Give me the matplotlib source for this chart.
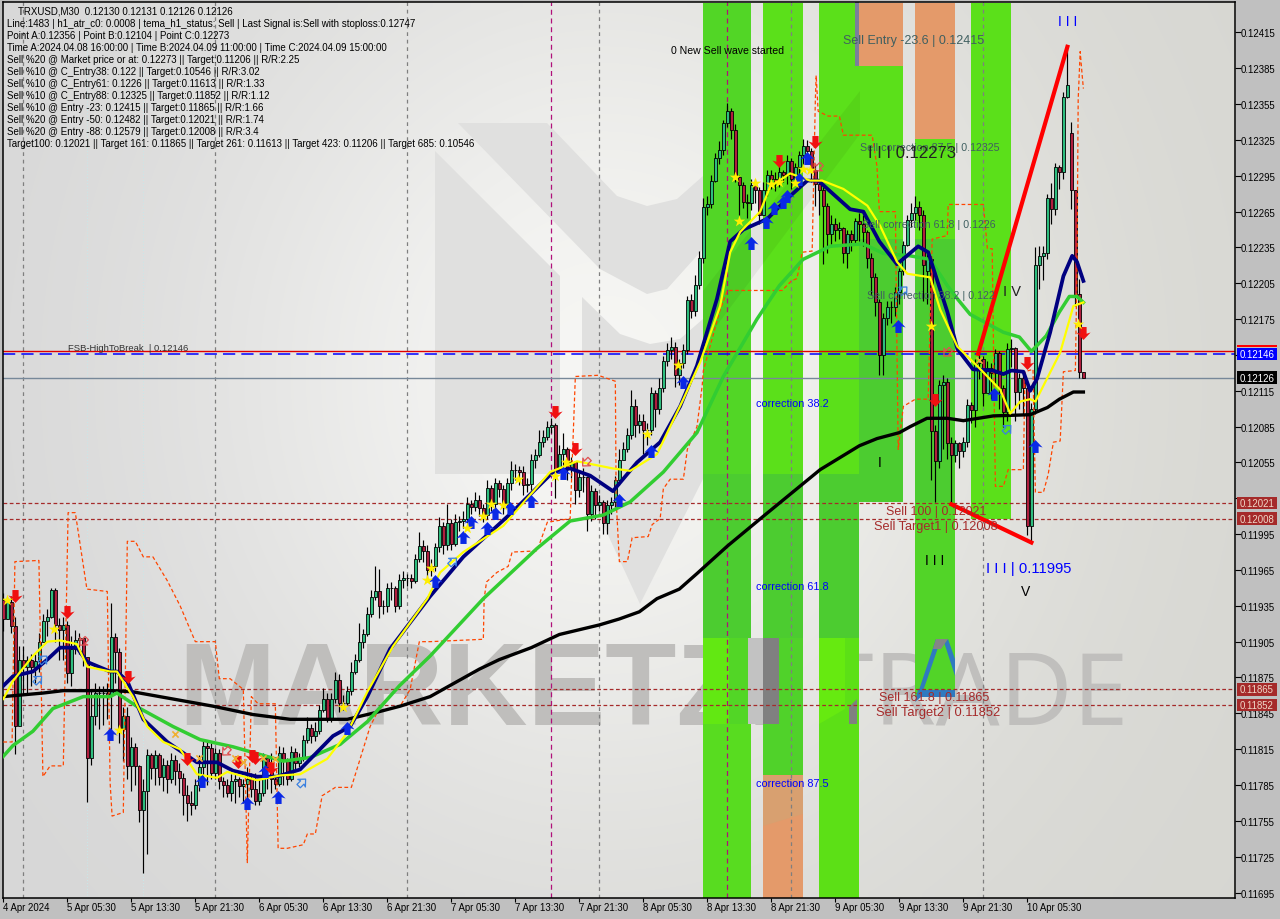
#!/usr/bin/env python3

# TRXUSD M30 chart. prices are in 1e-5 units here.

import numpy as np
from matplotlib import pyplot as plt
from matplotlib.patches import Polygon, Rectangle
from matplotlib.path import Path
from matplotlib.transforms import Affine2D

plt.rcParams['font.family'] = ['Liberation Sans', 'DejaVu Sans']

closes = [
    11924,11938,11918,11834,11890,11884,11890,11884,11889,11905,
    11922,11926,11948,11919,11915,11919,11879,11899,11906,11908,
    11892,11808,11843,11862,11862,11862,11860,11909,11896,11832,
    11843,11801,11817,11801,11764,11780,11810,11799,11810,11792,
    11802,11790,11806,11797,11791,11777,11770,11768,11785,11800,
    11818,11816,11795,11812,11788,11785,11778,11788,11790,11784,
    11786,11790,11782,11772,11778,11808,11800,11790,11786,11812,
    11806,11790,11813,11803,11808,11823,11833,11826,11830,11848,
    11857,11841,11857,11873,11854,11854,11864,11880,11890,11905,
    11911,11928,11942,11947,11935,11935,11950,11950,11935,11957,
    11958,11958,11956,11974,11985,11981,11965,11968,11984,12002,
    11986,12004,11987,12005,12006,12008,12020,12018,12024,12017,
    12011,12034,12020,12038,12033,12020,12038,12049,12049,12047,
    12036,12037,12057,12061,12072,12076,12085,12086,12048,12062,
    12066,12050,12055,12032,12043,12043,12012,12031,12019,12022,
    12004,12019,12022,12040,12057,12066,12078,12102,12086,12090,
    12082,12082,12113,12100,12117,12140,12149,12152,12128,12138,
    12149,12191,12182,12204,12226,12269,12271,12291,12310,12317,
    12339,12349,12333,12294,12287,12273,12272,12287,12283,12262,
    12283,12296,12292,12290,12298,12296,12307,12292,12302,12312,
    12320,12316,12300,12288,12283,12270,12246,12255,12250,12251,
    12230,12246,12241,12257,12255,12248,12226,12210,12189,12145,
    12176,12185,12185,12198,12215,12237,12258,12264,12269,12262,
    12220,12225,12081,12056,12120,12122,12071,12061,12071,12065,
    12072,12103,12099,12138,12142,12113,12134,12130,12147,12117,
    12097,12150,12151,12114,12126,12117,12002,12100,12220,12228,
    12230,12276,12267,12302,12298,12361,12371,12283,12195,12131,
    12126]
highs = [
    11946,11942,11943,11926,11901,11901,11893,11895,11895,11912,
    11928,11932,11950,11950,11925,11926,11922,11910,11915,11912,
    11905,11890,11865,11870,11868,11868,11870,11937,11912,11900,
    11850,11850,11825,11820,11802,11790,11815,11812,11814,11812,
    11808,11806,11812,11810,11803,11795,11785,11780,11790,11810,
    11822,11822,11820,11816,11815,11792,11790,11794,11795,11792,
    11790,11800,11795,11795,11790,11812,11808,11812,11792,11818,
    11817,11808,11818,11816,11812,11827,11842,11836,11838,11852,
    11866,11862,11862,11880,11878,11860,11868,11888,11895,11921,
    11916,11934,11948,11968,11966,11940,11954,11955,11952,11962,
    11964,11962,11962,11978,11997,11990,11986,11974,11988,12009,
    12005,12020,12008,12012,12010,12014,12026,12024,12030,12028,
    12020,12040,12036,12042,12040,12036,12042,12056,12054,12052,
    12052,12042,12062,12066,12082,12082,12090,12092,12088,12070,
    12080,12068,12060,12056,12048,12050,12044,12036,12034,12028,
    12024,12024,12026,12044,12066,12072,12084,12116,12108,12096,
    12096,12088,12118,12116,12126,12144,12155,12160,12156,12142,
    12154,12194,12196,12212,12232,12276,12278,12296,12314,12324,
    12342,12356,12352,12338,12296,12290,12280,12292,12292,12286,
    12290,12300,12300,12298,12304,12300,12312,12310,12306,12316,
    12326,12325,12318,12304,12292,12286,12272,12262,12260,12256,
    12252,12250,12250,12260,12264,12262,12250,12230,12214,12192,
    12180,12190,12190,12202,12218,12240,12262,12272,12278,12274,
    12266,12230,12228,12086,12124,12128,12126,12076,12074,12072,
    12076,12108,12106,12142,12152,12144,12140,12138,12150,12148,
    12120,12155,12158,12152,12130,12130,12120,12105,12235,12236,
    12236,12280,12289,12306,12304,12365,12401,12340,12283,12209,
    12131]
lows = [
    11914,11924,11912,11811,11834,11860,11862,11868,11870,11880,
    11905,11910,11925,11905,11890,11890,11870,11868,11895,11895,
    11885,11771,11802,11835,11832,11835,11840,11824,11870,11820,
    11805,11790,11780,11785,11754,11711,11727,11790,11785,11785,
    11780,11778,11787,11785,11778,11760,11755,11760,11765,11780,
    11790,11785,11790,11790,11782,11775,11775,11772,11770,11775,
    11770,11765,11775,11768,11768,11776,11782,11778,11782,11784,
    11785,11785,11788,11798,11800,11805,11820,11820,11822,11828,
    11846,11838,11838,11854,11846,11848,11852,11860,11878,11888,
    11900,11910,11926,11940,11925,11928,11930,11940,11930,11932,
    11950,11952,11950,11954,11972,11972,11958,11960,11964,11980,
    11978,11982,11982,11985,11998,12000,12004,12012,12014,12010,
    12005,12008,12014,12016,12026,12012,12018,12032,12040,12036,
    12028,12030,12032,12050,12060,12068,12074,12080,12025,12046,
    12050,12040,12042,12020,12026,12030,11998,12006,12008,12014,
    11995,11995,12012,12018,12036,12058,12064,12075,12076,12080,
    12062,12070,12078,12085,12096,12114,12136,12142,12118,12120,
    12134,12146,12176,12178,12200,12222,12262,12268,12290,12305,
    12312,12336,12326,12290,12262,12268,12260,12266,12272,12255,
    12262,12278,12284,12282,12286,12290,12288,12284,12288,12296,
    12304,12308,12290,12270,12262,12221,12230,12238,12240,12242,
    12222,12218,12232,12238,12240,12236,12218,12195,12178,12128,
    12128,12170,12172,12178,12188,12212,12236,12252,12258,12250,
    12190,12188,12040,12022,12050,12066,12058,12021,12055,12050,
    12060,12068,12088,12085,12125,12102,12115,12108,12120,12100,
    12085,12090,12135,12090,12100,12096,11994,11989,12096,12200,
    12208,12225,12255,12262,12284,12292,12360,12267,12186,12126,
    12126]
open_gaps = {0: 11940, 231: 12215, 267: 12331, 269: 12196, 270: 12131}

black_x = [0,10,15,21,27.4,32.4,42.4,52.4,62.4,71.7,86,93.5,99.2,106.7,119,124,132,139,149,154,159,163.4,169,173.4,181,190,204.2,214,218.4,224,226.7,230.9,236,240,247.5,256.7,261,264,267.5,270]
black_y = [11859,11862,11864,11864,11864,11863,11857,11851,11844,11840,11840,11846,11851,11859,11882,11890,11900,11911,11919,11924,11930,11941,11949,11962,11985,12010,12049,12069,12075,12080,12085,12092,12092,12090,12094,12095,12101,12108,12114,12114]

green_x = [0,2.4,7.4,12.4,20,26.7,28.4,34.2,42.4,49.2,57.4,70,76.7,84.2,91,99,106.7,120,133.4,141.7,150,156.7,165,173.4,180,188.4,194,199.9,206.7,215,220,226.7,231.7,236,238.5,241.7,250,254,257,260.7,264,266.5,268.4,270]
green_y = [11809,11818,11830,11849,11859,11859,11862,11849,11834,11823,11817,11805,11808,11819,11838,11868,11893,11941,11983,12006,12011,12022,12047,12080,12127,12175,12203,12225,12236,12238,12230,12228,12225,12203,12192,12179,12164,12160,12148,12161,12181,12194,12194,12189]

navy_x = [0,2.4,7.4,11,14.2,18.4,21,26.7,28.4,31,35,41,48.4,53.4,57.4,63.4,68.4,74.2,82.4,86.7,91,96.7,106.7,115,127.4,137.4,141.7,146.7,152.4,158.4,164.2,169.2,173.4,178.4,181.7,185,191,196,201,203.7,211.7,215,219,223.4,228.7,231.2,236,238.5,242.4,247.4,250,252,255,256.7,258.4,261.7,265,267.2,268.4,270]
navy_y = [11868,11876,11880,11890,11900,11900,11888,11880,11880,11872,11840,11821,11804,11804,11797,11792,11792,11798,11826,11834,11859,11899,11943,11976,12014,12047,12050,12044,12031,12055,12072,12102,12136,12192,12240,12250,12259,12276,12291,12291,12267,12265,12240,12221,12236,12231,12181,12150,12133,12132,12129,12132,12131,12115,12125,12164,12211,12228,12223,12207]

yellow_x = [0,2.4,7.4,11,14.2,18.4,21,26.7,28.4,32.4,36,40,44.2,48.4,53.4,56,63.4,69.2,74.2,81,86,91,97.4,106,109.2,115,125,136.7,143.4,152.4,156.7,163.4,170,174.2,179.2,181.7,184.2,189.2,191.7,196.7,201.7,204.7,210,216,219.2,223.4,226,231.7,234.2,238.5,243.4,249.2,251.7,254.2,256.7,258,264.2,267.5,270]
yellow_y = [11857,11872,11893,11905,11906,11903,11884,11880,11880,11859,11834,11821,11815,11794,11791,11796,11789,11793,11794,11807,11829,11863,11901,11941,11963,11980,12002,12047,12056,12050,12048,12062,12108,12139,12186,12231,12248,12265,12286,12297,12291,12291,12284,12270,12253,12223,12213,12210,12183,12152,12136,12116,12096,12106,12108,12106,12147,12186,12189]

stop_x = [0,2.2,2.9,8.9,9.9,11.7,15,16.2,18,20.9,26,26.7,27.2,30,31,33,35,37.4,41,44.2,48,53,54,56.7,60,61,62,63.7,68,68.7,71,75,76,78,79.7,83,87,91.7,93.5,99.2,101.7,104,106.7,120,120.2,120.8,123.4,126.2,127.2,133.4,136,141.7,143,148.7,153,153.2,154,156,157.2,161.2,162.2,164.2,165,166.7,170,171,173.4,174.7,175,179.2,181,194.7,197,198.4,199.7,202.2,203,203.2,203.7,206.2,209,210,217.2,218.4,219,223,223.7,225,228,231.2,232.2,236,236.2,245,246,247.2,248,250,251.2,255,255.4,257.4,258,260,261.2,262.5,264.2,265,268,268.4,268.7,269.2,269.7,270]
stop_y = [11821,11821,11972,11973,11792,11801,11801,12013,12013,11949,11947,11787,11759,11762,11989,11989,11976,11976,11956,11935,11905,11905,11874,11874,11865,11720,11859,11853,11853,11732,11732,11735,11744,11744,11776,11783,11783,11834,11846,11851,11865,11905,11905,11907,11941,11955,11963,11968,11980,11981,12005,12008,12127,12128,12123,12024,11972,11972,11992,11993,12003,12008,12033,12041,12041,12066,12085,12119,12132,12183,12199,12199,12207,12209,12231,12232,12359,12379,12349,12345,12345,12329,12329,12303,12265,12265,12066,12102,12108,12108,12242,12245,12271,12271,12234,12234,12035,12035,12049,12049,12131,12133,12030,12030,12045,12072,12073,12131,12132,12219,12359,12399,12379,12368]

sell_x = [2.9,16,31.2,46,58.7,62.2,63,67,138,143,194,203,233,256,270]
sell_y = [11943,11930,11875,11807,11804,11809,11808,11799,12097,12066,12307,12323,12107,12138,12163]
buy_x = [26.7,49.7,61,65.4,68.7,86,108,115,117,121,123,126.7,132,140,154,162,170,187,190.7,192.7,195,196,199,201,223.7,247.7,258]
buy_y = [11828,11788,11770,11797,11775,11833,11956,11993,12005,12000,12013,12017,12023,12046,12024,12065,12122,12239,12256,12268,12273,12278,12292,12310,12169,12112,12069]
star_x = [1,12.7,29,85,106,107,116,120,122,125,128.7,138,140.7,161,168.7,183,184,188,192,194,198,200,201.7,232,268.7]
star_y = [11940,11916,11831,11850,11957,11967,12000,12010,12020,12019,12041,12044,12055,12079,12137,12294,12257,12289,12288,12290,12289,12301,12300,12169,12171]
cross_x = [43,49,58,60,65,68,244]
cross_y = [11828,11808,11808,11804,11808,11807,12141]
hollow_buy_x = [8.7,10,74.7,112.4,225,251]
hollow_buy_y = [11873,11890,11787,11972,12199,12083]
hollow_sell_x = [20,55.7,145.7,203.7,236]
hollow_sell_y = [11905,11813,12055,12302,12147]

zigzag_up_x = [243.7, 266]
zigzag_up_y = [12146, 12403]
zigzag_down_x = [237, 257]
zigzag_down_y = [12020, 11988]

price_ticks = [12415,12385,12355,12325,12295,12265,12235,12205,12175,12145,12115,12085,12055,12025,11995,11965,11935,11905,11875,11845,11815,11785,11755,11725,11695]
hidden_ticks = [12145, 12025]  # under the price tags in the screenshot
time_labels = ['4 Apr 2024','5 Apr 05:30','5 Apr 13:30','5 Apr 21:30','6 Apr 05:30','6 Apr 13:30','6 Apr 21:30',
               '7 Apr 05:30','7 Apr 13:30','7 Apr 21:30','8 Apr 05:30','8 Apr 13:30','8 Apr 21:30',
               '9 Apr 05:30','9 Apr 13:30','9 Apr 21:30','10 Apr 05:30']

header_lines = [
    'Line:1483 | h1_atr_c0: 0.0008 | tema_h1_status: Sell | Last Signal is:Sell with stoploss:0.12747',
    'Point A:0.12356 | Point B:0.12104 | Point C:0.12273',
    'Time A:2024.04.08 16:00:00 | Time B:2024.04.09 11:00:00 | Time C:2024.04.09 15:00:00',
    'Sell %20 @ Market price or at: 0.12273 || Target:0.11206 || R/R:2.25',
    'Sell %10 @ C_Entry38: 0.122 || Target:0.10546 || R/R:3.02',
    'Sell %10 @ C_Entry61: 0.1226 || Target:0.11613 || R/R:1.33',
    'Sell %10 @ C_Entry88: 0.12325 || Target:0.11852 || R/R:1.12',
    'Sell %10 @ Entry -23: 0.12415 || Target:0.11865 || R/R:1.66',
    'Sell %20 @ Entry -50: 0.12482 || Target:0.12021 || R/R:1.74',
    'Sell %20 @ Entry -88: 0.12579 || Target:0.12008 || R/R:3.4',
    'Target100: 0.12021 || Target 161: 0.11865 || Target 261: 0.11613 || Target 423: 0.11206 || Target 685: 0.10546',
]

BRIGHT = '#5be01a'
DARK = '#4ccc30'
MID = '#52d626'
ORANGE = '#e49a6a'
# start bar, end bar, top price, bottom price, colour
bands = [
    (175, 187, 12440, 12045, MID), (175, 187, 12045, 11908, DARK), (175, 187, 11908, 11836, MID), (175, 187, 11836, 11690, '#58dc20'),
    (190, 200, 12440, 12045, BRIGHT), (190, 200, 12045, 11908, DARK), (190, 200, 11908, 11793, '#50d22a'), (190, 200, 11793, 11690, ORANGE),
    (204, 214, 12440, 12045, BRIGHT), (204, 214, 12045, 11908, DARK), (204, 214, 11908, 11690, '#5ce016'),
    (214, 225, 12440, 12387, ORANGE), (214, 225, 12387, 12242, BRIGHT), (214, 225, 12242, 12022, DARK),
    (228, 238, 12440, 12326, ORANGE), (228, 238, 12326, 12242, BRIGHT), (228, 238, 12242, 12022, DARK), (228, 238, 12022, 11859, '#52d428'),
    (242, 252, 12440, 12008, BRIGHT),
]

fig = plt.figure(figsize=(12.8, 9.2), dpi=100, facecolor='#c0c0c0')
ax = fig.add_axes([2.5/1280, 21/920, 1232.5/1280, 896/920])
pix = Affine2D().scale(1/1280, -1/920).translate(0, 1) + fig.transFigure

x = np.arange(len(closes))
c = np.array(closes) / 1e5
h = np.array(highs) / 1e5
l = np.array(lows) / 1e5
o = np.r_[c[0], c[:-1]]
for k, v in open_gaps.items():
    o[k] = v / 1e5

# background
yy, xx = np.mgrid[0:92, 0:128]
v = 214 + 32 * np.exp(-((xx*10-620)/430.0)**2 - ((yy*10-380)/470.0)**2)
bg = np.dstack([v, v, v - xx/128*5]) / 255
ax.imshow(bg, extent=[0, 1, 0, 1], transform=ax.transAxes, aspect='auto', zorder=0, interpolation='bilinear')
ax.set_xlim(-0.2, 307.9)
ax.set_ylim(0.116904, 0.124405)

# logo watermark
logo = '#e0e0df'
for pts in [[(435,152),(560,277),(560,475),(435,475)],
            [(458,124),(547,124),(617,197),(647,207),(677,200),(703,177),(703,250),(667,290),(647,295),(600,270)],
            [(582,298),(620,335),(650,345),(680,340),(703,320),(703,480),(640,605),(582,480)]]:
    ax.add_patch(Polygon(pts, transform=pix, facecolor=logo, edgecolor='none', zorder=0.5))
ax.text(178, 725, 'MARKETZI', transform=pix, fontsize=84, fontweight='bold', color='#bfbebc', ha='left', va='baseline', zorder=0.6)
ax.text(818, 725, 'TRADE', transform=pix, fontsize=72, color='#c0bfbd', family=['Noto Sans', 'Liberation Sans'], ha='left', va='baseline', zorder=0.6)

for b in bands:
    ax.add_patch(Rectangle((b[0] - 0.1, b[3] / 1e5), b[1] - b[0], (b[2] - b[3]) / 1e5, facecolor=b[4], edgecolor='none', zorder=1))

# bits of watermark that show on top of the bands
for pts, col in [([(748,639),(763,639),(763,725),(748,725)], '#c2c2c2'),
                 ([(763,639),(779,639),(779,725),(763,725)], '#808080'),
                 ([(703,639),(729,639),(729,725),(703,725)], '#62e812'),
                 ([(819,639),(845,639),(845,710),(819,725)], '#66ea10'),
                 ([(849,708),(857,700),(857,725),(849,725)], '#808080'),
                 ([(915,703),(936,640),(941,640),(921,698)], '#2f7ac0'),
                 ([(943,640),(948,640),(955,660),(955,677)], '#2f7ac0'),
                 ([(918,691),(955,691),(955,698),(916,698)], '#2f7ac0'),
                 ([(936,640),(948,640),(941,650),(933,650)], '#858585'),
                 ([(855,3),(859,3),(859,67),(855,67)], '#7b7f9b'),
                 ([(763,777),(803,777),(803,815),(763,827)], '#d8a070')]:
    ax.add_patch(Polygon(pts, transform=pix, facecolor=col, edgecolor='none', zorder=1.1))
ax.add_patch(Polygon([(703,292),(860,92),(860,135),(703,345)], transform=pix, facecolor='#000000', alpha=0.05, edgecolor='none', zorder=1.1))

for bar in [5, 53, 101, 149, 197, 245]:
    ax.axvline(bar, color='#7f7f7f', lw=0.9, ls=(0, (3, 3)), zorder=2)
for bar in [21, 35]:
    ax.axvline(bar, color='#c8e8ea', lw=0.7, ls=(0, (1, 2)), zorder=2)
for bar in [137, 181]:
    ax.axvline(bar, color='#b0107a', lw=0.9, ls=(0, (4, 3)), zorder=2)

ax.axhline(0.12148, color='#e00000', lw=1.0, zorder=2)
ax.axhline(0.12146, color='#0000ff', lw=1.1, ls=(0, (8, 4)), zorder=2)
ax.axhline(0.12126, color='#778899', lw=1.0, zorder=2)
for level in [0.12021, 0.12008, 0.11865, 0.11852]:
    ax.axhline(level, color='#a52a2a', lw=0.9, ls=(0, (3, 2)), zorder=2)

# candles
ax.vlines(x, l, h, color='black', lw=0.85, zorder=3)
up = c >= o
ax.bar(x[up], (c - o)[up], bottom=o[up], width=0.75, color='#2ebd7e', edgecolor='black', linewidth=0.6, zorder=4)
ax.bar(x[~up], (c - o)[~up], bottom=o[~up], width=0.75, color='#b01e3e', edgecolor='black', linewidth=0.6, zorder=4)

ax.plot(stop_x, np.array(stop_y)/1e5, color='#ff4500', lw=0.9, ls=(0, (3, 2)), zorder=5)
ax.plot(black_x, np.array(black_y)/1e5, color='black', lw=2.4, zorder=6, solid_joinstyle='round')
ax.plot(green_x, np.array(green_y)/1e5, color='#32cd32', lw=2.5, zorder=6, solid_joinstyle='round')
ax.plot(navy_x, np.array(navy_y)/1e5, color='#000080', lw=2.7, zorder=7, solid_joinstyle='round')
ax.plot(yellow_x, np.array(yellow_y)/1e5, color='#ffff00', lw=1.6, zorder=8, solid_joinstyle='round')
ax.plot(zigzag_up_x, np.array(zigzag_up_y)/1e5, color='#ff0000', lw=3, zorder=8)
ax.plot(zigzag_down_x, np.array(zigzag_down_y)/1e5, color='#ff0000', lw=3, zorder=8)

# arrows
arrow = Path([(0, .5), (.55, -.08), (.24, .02), (.24, -.5), (-.24, -.5), (-.24, .02), (-.55, -.08), (0, .5)], closed=True)
down = arrow.transformed(Affine2D().scale(1, -1))
hollow_up = arrow.transformed(Affine2D().rotate_deg(-45))
hollow_dn = arrow.transformed(Affine2D().rotate_deg(135))
ax.scatter(buy_x, np.array(buy_y)/1e5, marker=arrow, s=105, c='#0a28e6', linewidths=0, zorder=9)
ax.scatter(sell_x, np.array(sell_y)/1e5, marker=down, s=105, c='#f01010', linewidths=0, zorder=9)
ax.scatter(hollow_buy_x, np.array(hollow_buy_y)/1e5, marker=hollow_up, s=55, facecolors='none', edgecolors='#3a80e0', linewidths=0.9, zorder=9)
ax.scatter(hollow_sell_x, np.array(hollow_sell_y)/1e5, marker=hollow_dn, s=55, facecolors='none', edgecolors='#e05050', linewidths=0.9, zorder=9)
ax.scatter(star_x, np.array(star_y)/1e5, marker='*', s=75, c='#ffee00', linewidths=0, zorder=9)
ax.scatter(cross_x, np.array(cross_y)/1e5, marker='x', s=20, c='#f0b030', linewidths=1.2, zorder=9)

# texts
ax.text(18, 11, 'TRXUSD,M30  0.12130 0.12131 0.12126 0.12126', transform=pix, fontsize=7.0, va='center', color='black', zorder=10)
for i, line in enumerate(header_lines):
    ax.text(7, 24 + 12*i, line, transform=pix, fontsize=7.0, va='center', color='black', zorder=10)

def label(px, py, s, color='black', size=7.5):
    ax.text(px, py, s, transform=pix, fontsize=size, color=color, va='center', ha='left', zorder=10)

label(671, 51, '0 New Sell wave started', 'black', 7.6)
label(843, 41, 'Sell Entry -23.6 | 0.12415', '#3f5f60', 9)
label(860, 148, 'Sell correction 87.5 | 0.12325', '#3f5f60', 7.7)
label(868, 153, 'I I I 0.12273', '#222222', 12)
label(862, 225, 'Sell correction 61.8 | 0.1226', '#3f5f60', 7.7)
label(867, 296, 'Sell correction 38.2 | 0.122', '#3f5f60', 7.7)
label(1003, 292, 'I V', '#222222', 10.5)
label(756, 404, 'correction 38.2', '#0000ff', 7.8)
label(756, 587, 'correction 61.8', '#0000ff', 7.8)
label(756, 784, 'correction 87.5', '#0000ff', 7.8)
label(68, 349, 'FSB-HighToBreak  | 0.12146', '#333333', 6.8)
label(886, 512, 'Sell 100 | 0.12021', '#a52a2a', 8.9)
label(874, 527, 'Sell Target1 | 0.12008', '#a52a2a', 9.2)
label(879, 698, 'Sell 161.8 | 0.11865', '#a52a2a', 9)
label(876, 713, 'Sell Target2 | 0.11852', '#a52a2a', 9.3)
label(986, 569, 'I I I | 0.11995', '#0000ff', 10.6)
label(925, 561, 'I I I', 'black', 10)
label(1021, 592, 'V', 'black', 10)
label(1058, 22, 'I I I', '#0000ff', 10)
label(878, 463, 'I', 'black', 10)

# axis
ax.yaxis.tick_right()
ax.set_yticks(np.array(price_ticks) / 1e5, ['' if p in hidden_ticks else f'{p/1e5:.5f}' for p in price_ticks])
ax.set_xticks(np.arange(len(time_labels)) * 16, [''] * len(time_labels))
ax.tick_params(axis='y', length=4, width=0.8, labelsize=6.9, pad=0, colors='black')
ax.tick_params(axis='x', length=3, width=0.8)
for i, t in enumerate(time_labels):
    ax.text(i*16, -0.0098, t, transform=ax.get_xaxis_transform(), fontsize=6.9, ha='left', va='center', clip_on=False)
for s in ax.spines.values():
    s.set_linewidth(1.1)

# price tags over the axis
trans = ax.get_yaxis_transform()
tags = [(0.12146, '#0000ff', 'white'), (0.12126, 'black', 'white'), (0.12021, '#a52a2a', '#f0d8c8'),
        (0.12008, '#a52a2a', '#f0d8c8'), (0.11865, '#a52a2a', '#f0d8c8'), (0.11852, '#a52a2a', '#f0d8c8')]
for level, bgcol, fgcol in tags:
    ax.add_patch(Rectangle((1.0018, level - 0.000052), 0.0325, 0.000104, transform=trans, facecolor=bgcol, edgecolor='none', clip_on=False, zorder=11))
    ax.text(1.0035, level, f'{level:.5f}', transform=trans, fontsize=6.9, color=fgcol, va='center', ha='left', clip_on=False, zorder=12)
ax.add_patch(Rectangle((1.0018, 0.121515), 0.0325, 0.00002, transform=trans, facecolor='#ff0000', edgecolor='none', clip_on=False, zorder=12))

fig.savefig('out.png', dpi=100, facecolor=fig.get_facecolor())
